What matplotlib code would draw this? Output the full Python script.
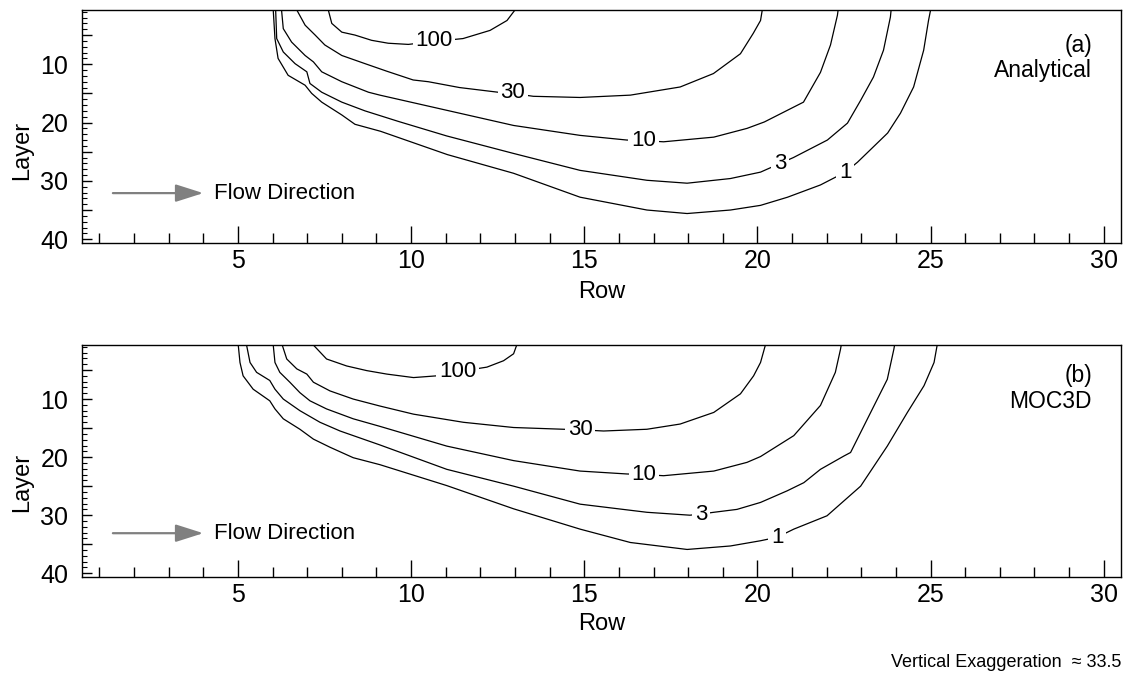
import matplotlib
matplotlib.use("Agg")
import matplotlib.pyplot as plt
from matplotlib.ticker import MultipleLocator, FuncFormatter

plt.rcParams['font.family'] = ['Liberation Sans', 'DejaVu Sans']

# ---- panel (a): analytical solution, contours ----
A1_X = [6.02, 6.07, 6.16, 6.45, 6.94, 7.13, 7.42, 8.0, 8.38, 9.12, 11.05, 12.96, 14.88, 16.81,
        17.97, 19.22, 20.09, 20.87, 21.82, 22.54, 22.89, 23.76, 24.13, 24.51, 24.8, 24.94, 25.0]
A1_Y = [0.7, 5.6, 9.0, 11.9, 13.6, 15.0, 16.5, 18.7, 20.3, 21.5, 25.5, 28.7, 32.8, 35.0,
        35.6, 35.0, 34.2, 32.8, 30.7, 28.5, 26.8, 21.8, 18.4, 13.9, 7.6, 2.5, 0.7]

A3_X = [6.09, 6.12, 6.31, 6.65, 6.99, 7.08, 7.42, 8.0, 8.67, 9.63, 11.03, 12.96, 14.88, 16.81,
        17.97, 19.22, 20.09, 20.66, 21.04, 22.02, 22.6, 22.98, 23.35, 23.64, 23.84, 23.86]
A3_Y = [0.7, 5.6, 7.9, 9.9, 11.3, 13.3, 14.8, 16.5, 18.0, 19.8, 22.3, 25.3, 28.2, 29.9,
        30.4, 29.6, 28.5, 27.0, 26.0, 23.0, 20.1, 16.2, 12.2, 7.6, 1.9, 0.7]

A10_X = [6.26, 6.31, 6.55, 6.94, 7.18, 7.42, 8.0, 8.77, 9.1, 11.03, 12.96, 14.88, 16.23, 16.71,
         17.29, 18.74, 19.7, 20.2, 21.33, 21.82, 22.11, 22.31, 22.33]
A10_Y = [0.7, 3.9, 6.2, 8.5, 9.6, 11.3, 13.0, 14.8, 15.3, 17.9, 20.5, 22.2, 23.0, 23.1,
         23.3, 22.5, 21.0, 19.9, 16.5, 11.4, 6.7, 1.6, 0.7]

A30_X = [6.7, 6.94, 7.23, 7.51, 8.0, 8.67, 9.3, 10.06, 10.5, 11.4, 12.51, 12.93, 13.53, 14.88,
         16.33, 17.77, 18.73, 19.51, 19.88, 20.09, 20.14]
A30_Y = [0.7, 3.3, 5.0, 6.7, 8.5, 9.9, 11.2, 12.7, 13.0, 14.0, 14.8, 15.0, 15.5, 15.7,
         15.3, 13.9, 11.6, 8.2, 4.7, 2.5, 0.7]

A100_X = [7.61, 7.71, 8.0, 8.38, 8.86, 9.34, 9.92, 10.66, 11.5, 12.28, 12.77, 13.0]
A100_Y = [0.7, 3.0, 4.5, 5.0, 5.9, 6.4, 6.6, 6.1, 5.6, 4.2, 2.5, 0.7]

# ---- panel (b): MOC3D ----
B1_X = [5.01, 5.06, 5.15, 5.44, 5.92, 6.07, 6.31, 6.79, 7.18, 7.66, 8.33, 9.1, 11.03, 12.96,
        14.88, 16.33, 17.97, 19.22, 20.09, 20.57, 21.05, 22.01, 22.98, 23.75, 24.33, 24.81,
        25.1, 25.19]
B1_Y = [0.7, 3.7, 6.0, 8.3, 10.3, 11.7, 13.4, 15.2, 16.9, 18.3, 20.1, 21.3, 24.9, 28.9,
        32.4, 34.7, 35.9, 35.3, 34.4, 33.8, 32.4, 30.1, 25.0, 18.1, 12.3, 7.7, 3.7, 0.7]

B3_X = [5.25, 5.35, 5.54, 5.92, 6.07, 6.31, 6.79, 7.37, 7.95, 8.62, 9.1, 11.03, 12.96, 14.88,
        16.81, 18.05, 18.37, 18.74, 19.41, 20.09, 20.86, 21.34, 21.82, 22.5, 22.69, 23.27,
        23.75, 23.94, 23.96]
B3_Y = [0.7, 3.7, 5.4, 6.8, 8.3, 10.0, 12.0, 14.0, 15.5, 16.9, 17.9, 22.1, 25.0, 28.1,
        29.5, 30.0, 29.8, 29.5, 29.0, 27.8, 25.8, 24.4, 22.1, 19.8, 19.2, 12.3,
        6.6, 1.4, 0.7]

B10_X = [6.02, 6.07, 6.21, 6.5, 6.79, 7.08, 7.56, 8.33, 9.1, 11.03, 12.96, 14.88, 16.23, 16.72,
         17.29, 18.74, 19.7, 20.09, 21.05, 21.82, 22.25, 22.4, 22.42]
B10_Y = [0.7, 3.7, 5.4, 7.1, 8.9, 10.3, 11.7, 13.4, 14.7, 18.1, 20.6, 22.4, 22.9, 23.0,
         23.2, 22.4, 20.9, 19.9, 16.3, 11.1, 5.4, 1.4, 0.7]

B30_X = [6.28, 6.41, 6.7, 6.99, 7.18, 7.66, 8.33, 9.1, 10.07, 11.51, 12.96, 14.4, 14.88, 15.56,
         16.81, 17.77, 18.74, 19.51, 19.89, 20.09, 20.23]
B30_Y = [0.7, 3.1, 4.8, 5.7, 7.1, 8.6, 10.0, 11.2, 12.6, 14.0, 14.9, 15.2, 15.3, 15.5,
         15.2, 14.3, 12.3, 9.1, 6.0, 3.7, 0.7]

B100_X = [7.18, 7.56, 8.14, 8.72, 9.3, 10.07, 10.74, 11.34, 12.19, 12.67, 12.96, 13.05]
B100_Y = [0.7, 3.1, 4.3, 5.1, 5.7, 6.3, 6.0, 5.3, 4.5, 3.4, 2.2, 0.7]

LEVELS = ['1', '3', '10', '30', '100']
A_LABEL_X = [22.54, 20.66, 16.71, 12.93, 10.66]
A_LABEL_Y = [28.5, 27.0, 23.05, 14.9, 6.0]
B_LABEL_X = [20.57, 18.37, 16.72, 14.88, 11.34]
B_LABEL_Y = [33.8, 29.8, 22.95, 15.25, 5.3]

A_CURVES = [(A1_X, A1_Y), (A3_X, A3_Y), (A10_X, A10_Y), (A30_X, A30_Y), (A100_X, A100_Y)]
B_CURVES = [(B1_X, B1_Y), (B3_X, B3_Y), (B10_X, B10_Y), (B30_X, B30_Y), (B100_X, B100_Y)]

fig = plt.figure(figsize=(11.24, 6.75), dpi=100)
ax_a = fig.add_axes([0.0730, 0.6396, 0.9244, 0.3456])
ax_b = fig.add_axes([0.0730, 0.1447, 0.9244, 0.3441])


def draw_panel(ax, curves, lab_x, lab_y, tag, name, tag_y, name_y, arrow_y, ylab_y, xlab_y):
    for (xs, ys) in curves:
        ax.plot(xs, ys, color='black', lw=0.9, zorder=2, solid_joinstyle='round')
    for lev, lx, ly in zip(LEVELS, lab_x, lab_y):
        ax.text(lx, ly, lev, fontsize=16, ha='center', va='center', zorder=3,
                bbox=dict(boxstyle='square,pad=0.12', fc='white', ec='none'))

    ax.set_xlim(0.5, 30.5)
    ax.set_ylim(40.7, 0.7)
    ax.xaxis.set_major_locator(MultipleLocator(5))
    ax.xaxis.set_minor_locator(MultipleLocator(1))
    ax.yaxis.set_major_locator(MultipleLocator(5))
    ax.yaxis.set_minor_locator(MultipleLocator(1))
    ax.yaxis.set_major_formatter(FuncFormatter(lambda v, p: '%d' % v if v % 10 == 0 else ''))
    ax.tick_params(axis='x', which='major', direction='in', length=12, width=1,
                   labelsize=18, pad=4)
    ax.tick_params(axis='x', which='minor', direction='in', length=7, width=1)
    ax.tick_params(axis='y', which='major', direction='in', length=7, width=1,
                   labelsize=18, pad=10)
    ax.tick_params(axis='y', which='minor', direction='in', length=3.5, width=0.8)
    for s in ax.spines.values():
        s.set_linewidth(1.0)

    ax.set_xlabel('Row', fontsize=17)
    ax.xaxis.set_label_coords(0.5, xlab_y)
    ax.set_ylabel('Layer', fontsize=17)
    ax.yaxis.set_label_coords(-0.047, ylab_y)

    ax.text(0.972, tag_y, tag, transform=ax.transAxes, fontsize=16.5, ha='right', va='center')
    ax.text(0.972, name_y, name, transform=ax.transAxes, fontsize=16.5, ha='right', va='center')

    ax.annotate('', xy=(4.0, arrow_y), xytext=(1.39, arrow_y),
                arrowprops=dict(arrowstyle='-|>,head_length=0.85,head_width=0.27',
                                mutation_scale=20, color='0.5', lw=1.6,
                                shrinkA=0, shrinkB=0))
    ax.text(4.3, arrow_y, 'Flow Direction', fontsize=16, ha='left', va='center')


draw_panel(ax_a, A_CURVES, A_LABEL_X, A_LABEL_Y, '(a)', 'Analytical',
           0.848, 0.742, 32.1, 0.40, -0.162)
draw_panel(ax_b, B_CURVES, B_LABEL_X, B_LABEL_Y, '(b)', 'MOC3D',
           0.868, 0.758, 33.1, 0.41, -0.154)

fig.text(0.998, 0.018, 'Vertical Exaggeration  \u2248 33.5', fontsize=13, ha='right', va='center')

fig.savefig('out.png', dpi=100)
